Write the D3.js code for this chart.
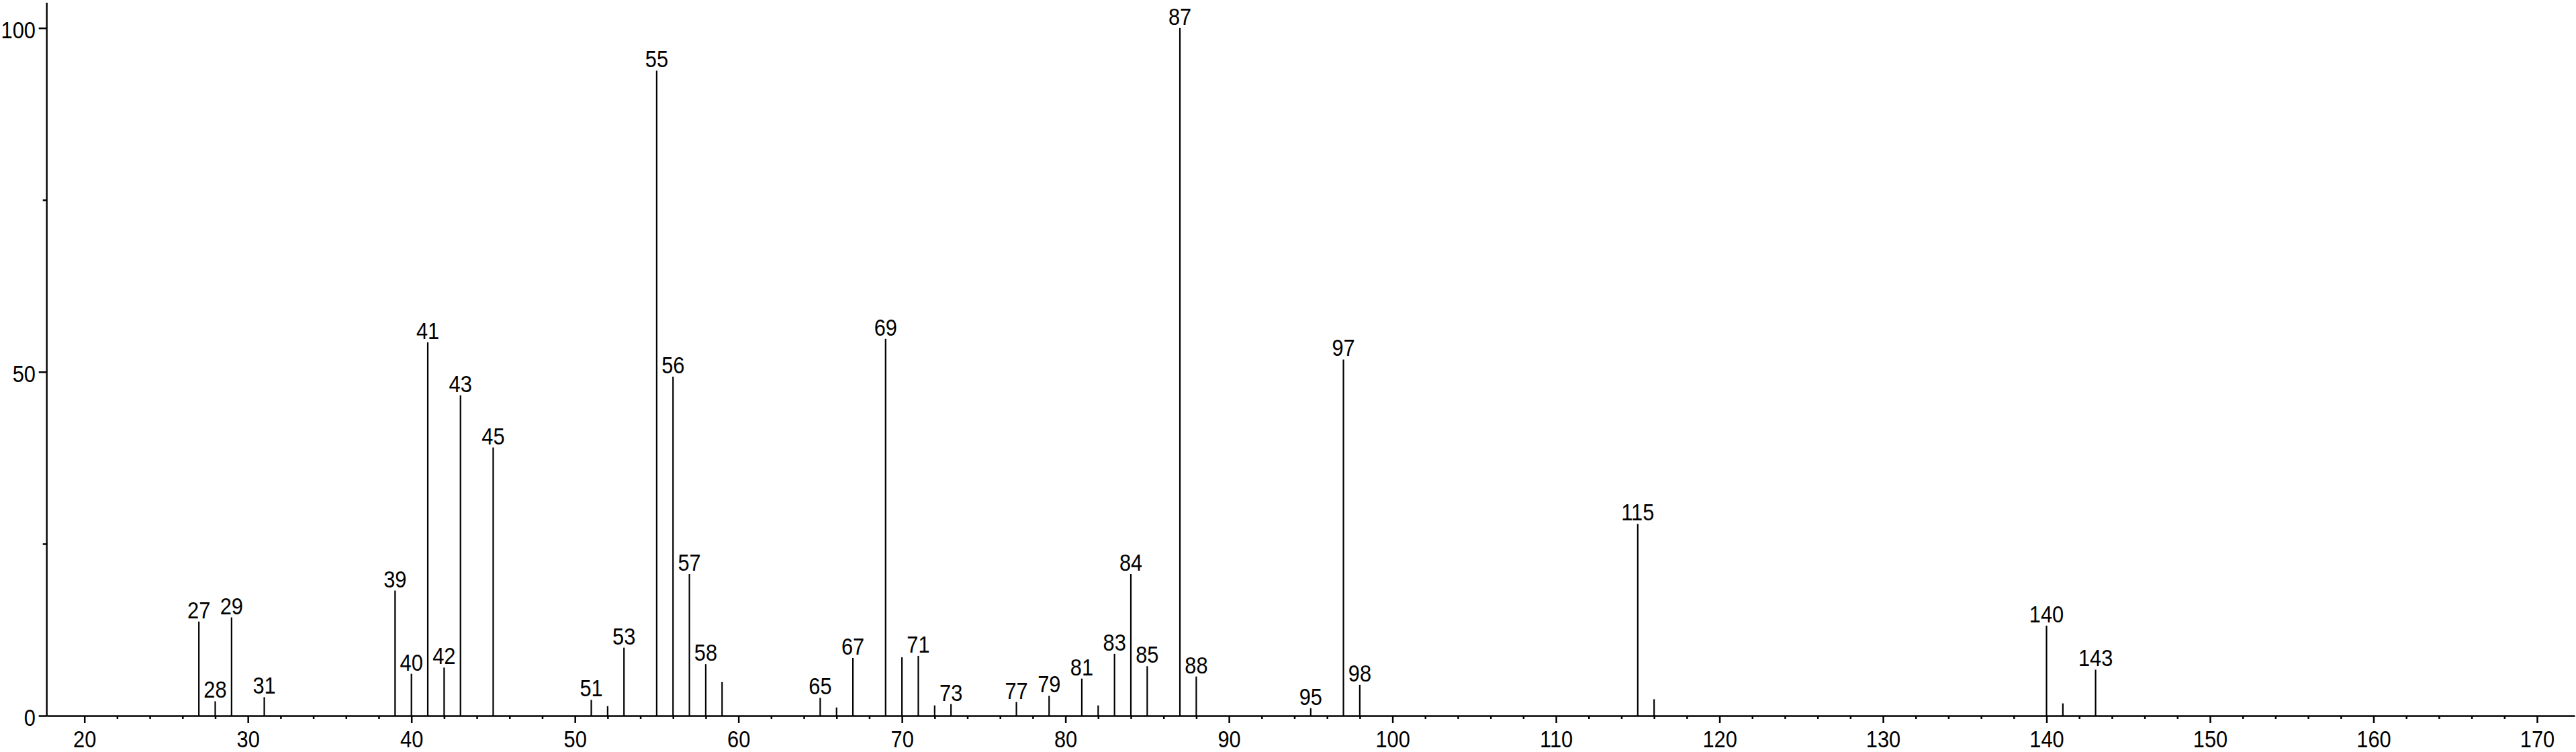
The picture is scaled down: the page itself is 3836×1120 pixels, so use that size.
<!DOCTYPE html>
<html>
<head>
<meta charset="utf-8">
<script src="https://cdn.jsdelivr.net/npm/d3@7"></script>
<style>
  html, body { margin: 0; padding: 0; background: #fff; }
  svg { display: block; }
  text { font-family: "Liberation Sans", Arial, Helvetica, sans-serif; fill: #000; }
</style>
</head>
<body>
<svg id="chart" width="3836" height="1120"></svg>
<script>
// m/z values of the peaks
const mz = [27, 28, 29, 31, 39, 40, 41, 42, 43, 45, 51, 52, 53, 55, 56, 57, 58, 59,
            65, 66, 67, 69, 70, 71, 72, 73, 77, 79, 81, 82, 83, 84, 85, 87, 88,
            95, 97, 98, 115, 116, 140, 141, 143];
// relative intensities (%)
const intensity = [13.7, 2.1, 14.3, 2.7, 18.2, 6.1, 54.3, 7.0, 46.6, 39.0, 2.3, 1.4, 9.9, 93.8, 49.3, 20.6, 7.5, 4.9,
                   2.6, 1.2, 8.4, 54.8, 8.5, 8.7, 1.5, 1.7, 2.0, 2.9, 5.4, 1.5, 9.0, 20.6, 7.2, 100, 5.7,
                   1.1, 51.8, 4.5, 27.9, 2.4, 13.1, 1.8, 6.7];
// peaks that carry a m/z label
const labeledPeaks = [27, 28, 29, 31, 39, 40, 41, 42, 43, 45, 51, 53, 55, 56, 57, 58, 65, 67, 69, 71, 73,
                      77, 79, 81, 83, 84, 85, 87, 88, 95, 97, 98, 115, 140, 143];
// axis ticks
const xMajorTicks = [20, 30, 40, 50, 60, 70, 80, 90, 100, 110, 120, 130, 140, 150, 160, 170];
const xMinorTicks = d3.range(22, 169, 2).filter(v => v % 10 !== 0);
const yMajorTicks = [0, 50, 100];
const yMinorTicks = [25, 75];

const FS = 35, SX = 0.88;

const svg = d3.select("#chart");

const x = d3.scaleLinear().domain([17.7, 172.3]).range([69.7, 3834]);
const y = d3.scaleLinear().domain([0, 100]).range([1066, 41.7]);
const yTop = 4;

// peaks
const data = mz.map((m, i) => ({ m, v: intensity[i] }));
svg.append("g")
  .selectAll("line")
  .data(data)
  .join("line")
  .attr("x1", d => x(d.m)).attr("x2", d => x(d.m))
  .attr("y1", y(0)).attr("y2", d => y(d.v))
  .attr("stroke", "#000").attr("stroke-width", 2.2);

// peak labels
svg.append("g")
  .selectAll("text")
  .data(data.filter(d => labeledPeaks.includes(d.m)))
  .join("text")
  .attr("transform", d => `translate(${x(d.m)},${y(d.v) - 5}) scale(${SX},1)`)
  .attr("text-anchor", "middle")
  .attr("font-size", FS)
  .text(d => d.m);

// x axis minor ticks
svg.append("g")
  .attr("transform", `translate(0,${y(0)})`)
  .call(d3.axisBottom(x).tickValues(xMinorTicks).tickSize(5).tickFormat(""))
  .call(g => g.select(".domain").remove())
  .call(g => g.selectAll("line").attr("stroke-width", 2.5));

// x axis
svg.append("g")
  .attr("transform", `translate(0,${y(0)})`)
  .call(d3.axisBottom(x).tickValues(xMajorTicks).tickSize(11).tickSizeOuter(0).tickPadding(11).tickFormat(d3.format("d")))
  .call(g => g.select(".domain").attr("stroke-width", 2.6))
  .call(g => g.selectAll("line").attr("stroke-width", 2.5))
  .call(g => g.selectAll("text")
      .attr("font-size", FS)
      .attr("font-family", null)
      .attr("transform", `scale(${SX},1)`));

// y axis minor ticks
svg.append("g")
  .attr("transform", `translate(${x.range()[0]},0)`)
  .call(d3.axisLeft(y).tickValues(yMinorTicks).tickSize(6).tickFormat(""))
  .call(g => g.select(".domain").remove())
  .call(g => g.selectAll("line").attr("stroke-width", 2.5));

// y axis
const yAxisG = svg.append("g")
  .attr("transform", `translate(${x.range()[0]},0)`)
  .call(d3.axisLeft(y).tickValues(yMajorTicks).tickSize(12).tickSizeOuter(0).tickPadding(7).tickFormat(d3.format("d")))
  .call(g => g.select(".domain").remove())
  .call(g => g.selectAll("line").attr("stroke-width", 2.5))
  .call(g => g.selectAll("text")
      .attr("font-size", FS)
      .attr("font-family", null)
      .attr("dy", "0.42em")
      .attr("transform", `scale(${SX},1)`));

yAxisG.append("line")
  .attr("x1", 0).attr("x2", 0)
  .attr("y1", yTop).attr("y2", y(0) + 1)
  .attr("stroke", "#000").attr("stroke-width", 2.4);
</script>
</body>
</html>
